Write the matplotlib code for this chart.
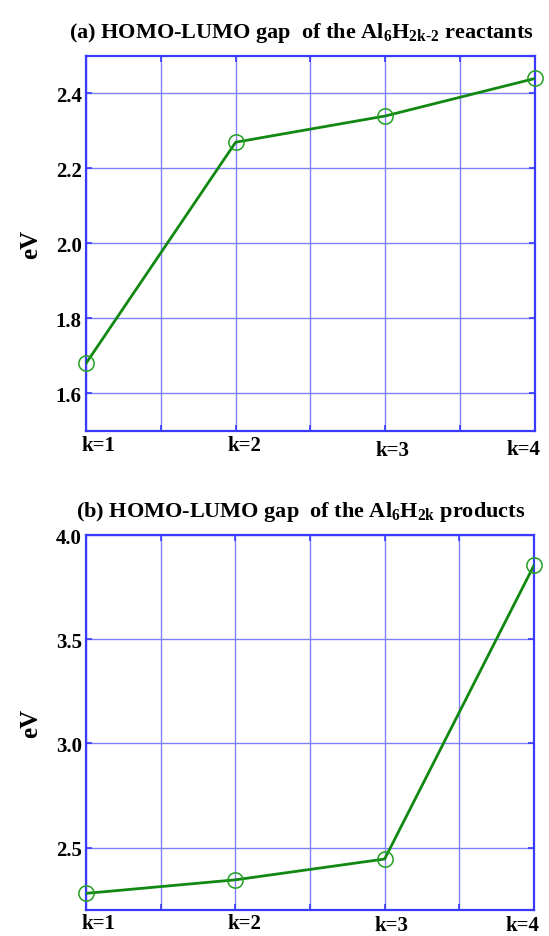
import numpy as np
import matplotlib
matplotlib.use("Agg")
import matplotlib.pyplot as plt
from matplotlib.transforms import ScaledTranslation

plt.rcParams['font.family'] = ['Liberation Serif', 'DejaVu Serif']
plt.rcParams['font.weight'] = 'bold'
plt.rcParams['mathtext.fontset'] = 'custom'
plt.rcParams['mathtext.rm'] = 'Liberation Serif:bold'
plt.rcParams['mathtext.bf'] = 'Liberation Serif:bold'
plt.rcParams['mathtext.it'] = 'Liberation Serif:bold'

#%% data
k = [1, 2, 3, 4]
k_labels = ['k=1', 'k=2', 'k=3', 'k=4']
gap_reactants = [1.68, 2.27, 2.34, 2.44]
gap_products = [2.28, 2.345, 2.445, 3.855]

title_a = r'(a) HOMO-LUMO gap  of the Al$_{6}$H$_{\text{2k-2}}$ reactants'
title_b = r'(b) HOMO-LUMO gap  of the Al$_{6}$H$_{\text{2k}}$ products'

yticks_a = [1.6, 1.8, 2.0, 2.2, 2.4]
yticks_b = [2.5, 3.0, 3.5, 4.0]

# small shifts of the k labels (pixels), like in the original
lab_dx = [12, 9, 7, -12]
lab_dy_a = [0, 0, -5, -4]
lab_dy_b = [0, 0, -2, -2]

blue = '#3a3aff'
grid_blue = '#8080ff'
green = '#118811'

fig = plt.figure(figsize=(5.49, 9.37), dpi=100)
ax_a = fig.add_axes([0.1566, 0.5390, 0.8179, 0.4002])
ax_b = fig.add_axes([0.1566, 0.0277, 0.8161, 0.4002])

def draw(ax, y, ylim, yticks, title, lab_dy, xpad):
    ax.plot(k, y, color=green, lw=2.0, zorder=3)
    ax.plot(k, y, 'o', ms=11, mfc='none', mec='#22a022', mew=1.1, zorder=4, clip_on=False)
    ax.set_xlim(1, 4)
    ax.set_ylim(*ylim)
    ax.set_xticks(k)
    ax.set_xticklabels(k_labels, fontsize=15, fontweight='bold')
    ax.set_xticks(np.arange(1.5, 4, 1.0), minor=True)
    ax.set_yticks(yticks)
    ax.set_yticklabels(['%.1f' % v for v in yticks], fontsize=15, fontweight='bold')
    ax.grid(True, which='both', color=grid_blue, lw=1.0)
    ax.tick_params(which='both', direction='in', color=blue, top=True, right=True,
                   length=4, width=1.2)
    ax.tick_params(axis='x', pad=xpad)
    ax.tick_params(axis='y', pad=3)
    for s in ax.spines.values():
        s.set_color(blue)
        s.set_linewidth(1.6)
    for lab, dx, dy in zip(ax.get_xticklabels(), lab_dx, lab_dy):
        lab.set_transform(lab.get_transform() + ScaledTranslation(dx / 100, dy / 100, fig.dpi_scale_trans))
    ax.set_ylabel('eV', fontsize=18, fontweight='bold', labelpad=10)
    ax.set_title(title, fontsize=16, fontweight='bold', loc='center', pad=14, x=0.48)

draw(ax_a, gap_reactants, (1.5, 2.5), yticks_a, title_a, lab_dy_a, 3)
draw(ax_b, gap_products, (2.2, 4.0), yticks_b, title_b, lab_dy_b, 2)

fig.savefig('out.png', dpi=100)
